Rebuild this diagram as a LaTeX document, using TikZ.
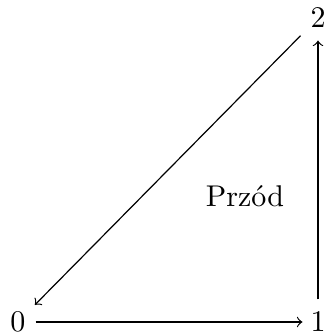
\documentclass[tikz,border=0pt]{standalone}
\begin{document}
\begin{tikzpicture}[x=0.3333pt,y=-0.3333pt,
  lbl/.style={inner sep=0pt},
  arr/.style={->,line width=0.4pt}]
\useasboundingbox (0,0) rectangle (326,336);
\node[lbl] (n0) at (18,322) {0};
\node[lbl] (n1) at (318,322) {1};
\node[lbl] (n2) at (318,18) {2};
\node[lbl] (t) at (245,196) {Przód};
\draw[arr,shorten <=3.2pt,shorten >=2.5pt] (n0.east) -- (n1.west);
\draw[arr,shorten <=4pt,shorten >=4pt] (n1.north) -- (n2.south);
\draw[arr,shorten <=8.3pt,shorten >=8pt] (n2.center) -- (n0.center);
\end{tikzpicture}
\end{document}
